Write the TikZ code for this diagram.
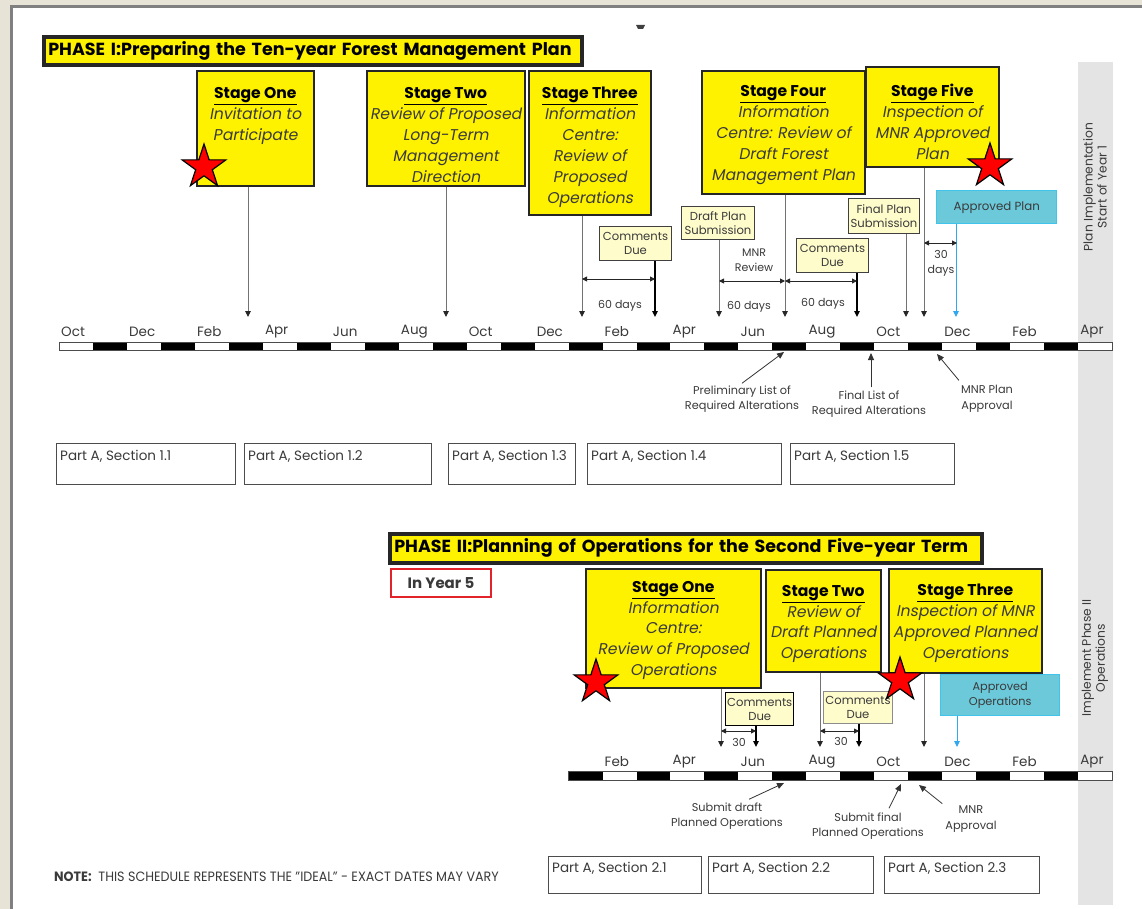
\documentclass[tikz,border=0pt]{standalone}
\usepackage{fontspec}
\setmainfont{Poppins}[AutoFakeSlant=0.18]
\usetikzlibrary{shapes.geometric,arrows.meta}

\definecolor{pageBeige}{HTML}{E7E3D7}
\definecolor{frameGray}{HTML}{808080}
\definecolor{stageYellow}{HTML}{FFF200}
\definecolor{noteCream}{HTML}{FFFCCC}
\definecolor{planCyan}{HTML}{6CC9DA}
\definecolor{cyanEdge}{HTML}{40C4EC}
\definecolor{cyanArrow}{HTML}{30A8F0}
\definecolor{stripGray}{HTML}{E4E4E4}
\definecolor{inkGray}{HTML}{3A3A3A}
\definecolor{yearRed}{HTML}{E2232A}

\newcommand\stagehead[1]{{\upshape\bfseries\color{black}\underline{#1}}}

\begin{document}
\begin{tikzpicture}[x=1pt,y=-1pt,
  stagebox/.style={draw=black!85, line width=1.6pt, fill=stageYellow, inner sep=0pt, anchor=north west},
  stagetext/.style={anchor=north, align=center, inner sep=0pt, text=inkGray,
    font=\fontsize{15.6}{21}\selectfont\itshape},
  phasebox/.style={draw=black!85, line width=2.6pt, fill=stageYellow, anchor=north west,
    inner ysep=0pt, inner xsep=5pt, align=left, font=\fontsize{17.5}{19}\selectfont\bfseries},
  notebox/.style={draw=black!75, line width=1pt, fill=noteCream, anchor=north west, inner sep=0pt,
    align=center, text=inkGray, font=\fontsize{11.6}{14}\selectfont},
  planbox/.style={draw=cyanEdge, line width=1.4pt, fill=planCyan, anchor=north west, inner sep=0pt,
    align=center, text=inkGray, font=\fontsize{11.8}{15}\selectfont},
  partbox/.style={draw=black!70, line width=0.9pt, fill=white, anchor=north west, inner sep=0pt},
  parttext/.style={anchor=north west, inner sep=0pt, text=inkGray, font=\fontsize{13.5}{15}\selectfont},
  month/.style={anchor=west, inner sep=0pt, text=inkGray, font=\fontsize{13.5}{15}\selectfont},
  small/.style={align=center, inner sep=0pt, text=inkGray, font=\fontsize{11.3}{15.5}\selectfont},
  days/.style={inner sep=0pt, text=inkGray, font=\fontsize{11}{13}\selectfont},
  sidetext/.style={rotate=90, align=center, inner sep=0pt, text=inkGray, font=\fontsize{12.3}{14}\selectfont},
  redstar/.style={star, star points=5, star point ratio=2.618, minimum size=46pt, inner sep=0pt,
    fill=red, draw=black, line width=1.2pt},
  drop/.style={draw=black!55, line width=0.9pt, -{Triangle[length=6pt,width=5.5pt,color=black!85]}},
  dropdark/.style={draw=black, line width=1.4pt, -{Triangle[length=6pt,width=5.5pt]}},
  dropcyan/.style={draw=cyanArrow, line width=1pt, -{Triangle[length=6pt,width=5.5pt]}},
  span/.style={draw=black!85, line width=0.9pt, {Triangle[length=5pt,width=5pt]}-{Triangle[length=5pt,width=5pt]}},
  pointer/.style={draw=black!80, line width=0.8pt, -{Triangle[length=7pt,width=6pt]}}
]
\useasboundingbox (0,0) rectangle (1142,909);

% page and frame
\fill[pageBeige] (0,0) rectangle (1142,909);
\fill[frameGray] (10,5) rectangle (1142,909);
\fill[white] (13,8) rectangle (1142,909);
\fill[black!75] (636,25) -- (645,25) -- (643,29) -- (638,29) -- cycle;

% grey strip on the right
\fill[stripGray] (1078,62) rectangle (1113,905);
\node[sidetext] (startYear) at (1095,187) {Plan Implementation\\Start of Year 1};
\node[sidetext] (implII) at (1095,658) {Implement Phase II\\Operations};

% ---------------- PHASE I ----------------
\node[phasebox, minimum width=539pt, minimum height=29pt, text width=529pt] (ph1) at (42,35)
  {PHASE I:Preparing the Ten-year Forest Management Plan};
\draw[black!85, line width=0.6pt] ([xshift=3pt,yshift=-3pt]ph1.north west) rectangle ([xshift=-3pt,yshift=3pt]ph1.south east);

\node[stagebox, minimum width=117pt, minimum height=115pt] (p1a) at (196,70) {};
\node[stagetext] (p1aT) at ([yshift=-17pt]p1a.north) {\stagehead{Stage One}\\Invitation to\\Participate};
\node[stagebox, minimum width=158pt, minimum height=115pt] (p1b) at (366,70) {};
\node[stagetext] (p1bT) at ([yshift=-17pt]p1b.north) {\stagehead{Stage Two}\\Review of Proposed\\Long-Term\\Management\\Direction};
\node[stagebox, minimum width=122pt, minimum height=144pt] (p1c) at (528,70) {};
\node[stagetext] (p1cT) at ([yshift=-17pt]p1c.north) {\stagehead{Stage Three}\\Information\\Centre:\\Review of\\Proposed\\Operations};
\node[stagebox, minimum width=163pt, minimum height=123pt] (p1d) at (701,70) {};
\node[stagetext] (p1dT) at ([yshift=-15pt]p1d.north) {\stagehead{Stage Four}\\Information\\Centre: Review of\\Draft Forest\\Management Plan};
\node[stagebox, minimum width=133pt, minimum height=100pt] (p1e) at (865,66) {};
\node[stagetext] (p1eT) at ([yshift=-18pt]p1e.north) {\stagehead{Stage Five}\\Inspection of\\MNR Approved\\Plan};

\node[planbox, minimum width=120pt, minimum height=33pt] (ap1) at (936,190) {Approved Plan};

\node[notebox, minimum width=72pt, minimum height=34pt] (cd1) at (599,226) {Comments\\Due};
\node[notebox, minimum width=73pt, minimum height=33pt] (dps) at (681,206) {Draft Plan\\Submission};
\node[notebox, minimum width=72pt, minimum height=34pt] (cd2) at (796,238) {Comments\\Due};
\node[notebox, minimum width=71pt, minimum height=35pt] (fps) at (848,198) {Final Plan\\Submission};

% arrow tips above the first time line
\coordinate (tA) at (248,317);
\coordinate (tB) at (446,317);
\coordinate (tC) at (582,317);
\coordinate (tD) at (655,317);
\coordinate (tE) at (719,317);
\coordinate (tF) at (785,317);
\coordinate (tG) at (857,317);
\coordinate (tH) at (906,317);
\coordinate (tI) at (924,317);
\coordinate (tJ) at (956,317);

\draw[drop] (p1a.south -| tA) -- (tA);
\draw[drop] (p1b.south -| tB) -- (tB);
\draw[drop] (p1c.south -| tC) -- (tC);
\draw[dropdark] (cd1.south -| tD) -- (tD);
\draw[drop] (dps.south -| tE) -- (tE);
\draw[drop] (p1d.south -| tF) -- (tF);
\draw[dropdark] (cd2.south -| tG) -- (tG);
\draw[drop] (fps.south -| tH) -- (tH);
\draw[drop] (p1e.south -| tI) -- (tI);
\draw[dropcyan] (ap1.south -| tJ) -- (tJ);

% day spans
\coordinate (s1a) at (582,279); \coordinate (s1b) at (655,279);
\coordinate (s2a) at (719,281); \coordinate (s2b) at (785,281);
\coordinate (s3a) at (785,281); \coordinate (s3b) at (857,281);
\coordinate (s4a) at (924,243); \coordinate (s4b) at (957,243);
\draw[span] (s1a) -- (s1b);
\draw[span] (s2a) -- (s2b);
\draw[span] (s3a) -- (s3b);
\draw[span] (s4a) -- (s4b);
\node[days] (d60a) at (620,306) {60 days};
\node[days] (d60b) at (749,307) {60 days};
\node[days] (d60c) at (823,304) {60 days};
\node[small, font=\fontsize{11}{14.5}\selectfont] (mnrRev) at (754,260) {MNR\\Review};
\node[small, font=\fontsize{11}{15}\selectfont] (d30) at (941,263) {30\\days};

% first time line: one block per month
\foreach \i in {0,2,...,30} \fill[white] ({59+33.97*\i},342) rectangle ({59+33.97*(\i+1)},350);
\foreach \i in {1,3,...,29} \fill[black] ({59+33.97*\i},342) rectangle ({59+33.97*(\i+1)},350);
\draw[black!70, line width=0.8pt] (59,342) rectangle (1112,350);
\foreach \i/\m in {0/Oct,2/Dec,4/Feb,6/Apr,8/Jun,10/Aug,12/Oct,14/Dec,16/Feb,18/Apr,20/Jun,22/Aug,24/Oct,26/Dec,28/Feb,30/Apr}
  \node[month] (mA\i) at ({59+33.97*\i+2},332) {\m};

% notes under the first time line
\node[small] (prelim) at (742,399) {Preliminary List of\\Required Alterations};
\coordinate (prelimTip) at (784,352);
\draw[pointer] ([yshift=2pt]prelim.north) -- (prelimTip);
\node[small] (finalList) at (869,404) {Final List of\\Required Alterations};
\coordinate (finalTip) at (871,353);
\draw[pointer] ([xshift=2pt,yshift=3pt]finalList.north) -- (finalTip);
\node[small] (mnrPlan) at (987,399) {MNR Plan\\Approval};
\coordinate (mnrPlanTip) at (937,354);
\draw[pointer] ([xshift=-2pt,yshift=5pt]mnrPlan.north west) -- (mnrPlanTip);

% Part A sections, first group
\node[partbox, minimum width=179pt, minimum height=41pt] (pa11) at (56,443) {};
\node[parttext] at ([xshift=4pt,yshift=-7pt]pa11.north west) {Part A, Section 1.1};
\node[partbox, minimum width=187pt, minimum height=41pt] (pa12) at (244,443) {};
\node[parttext] at ([xshift=4pt,yshift=-7pt]pa12.north west) {Part A, Section 1.2};
\node[partbox, minimum width=127pt, minimum height=41pt] (pa13) at (448,443) {};
\node[parttext] at ([xshift=4pt,yshift=-7pt]pa13.north west) {Part A, Section 1.3};
\node[partbox, minimum width=194pt, minimum height=41pt] (pa14) at (587,443) {};
\node[parttext] at ([xshift=4pt,yshift=-7pt]pa14.north west) {Part A, Section 1.4};
\node[partbox, minimum width=164pt, minimum height=41pt] (pa15) at (790,443) {};
\node[parttext] at ([xshift=4pt,yshift=-7pt]pa15.north west) {Part A, Section 1.5};

% ---------------- PHASE II ----------------
\node[phasebox, minimum width=593pt, minimum height=30pt, text width=583pt] (ph2) at (388,532)
  {PHASE II:Planning of Operations for the Second Five-year Term};
\draw[black!85, line width=0.6pt] ([xshift=3pt,yshift=-3pt]ph2.north west) rectangle ([xshift=-3pt,yshift=3pt]ph2.south east);

\node[draw=yearRed, line width=2pt, fill=white, anchor=north west, minimum width=100pt, minimum height=28pt,
  inner sep=0pt, text=inkGray, font=\fontsize{15}{17}\selectfont\bfseries] (year5) at (390,568) {In Year 5};

\node[stagebox, minimum width=175pt, minimum height=119pt] (p2a) at (585,568) {};
\node[stagetext, font=\fontsize{15.6}{20.8}\selectfont\itshape] (p2aT) at ([yshift=-13pt]p2a.north) {\stagehead{Stage One}\\Information\\Centre:\\Review of Proposed\\Operations};
\node[stagebox, minimum width=115pt, minimum height=102pt] (p2b) at (765,569) {};
\node[stagetext, font=\fontsize{15.6}{20.8}\selectfont\itshape] (p2bT) at ([yshift=-16pt]p2b.north) {\stagehead{Stage Two}\\Review of\\Draft Planned\\Operations};
\node[stagebox, minimum width=153pt, minimum height=104pt] (p2c) at (888,568) {};
\node[stagetext, font=\fontsize{15.6}{20.8}\selectfont\itshape] (p2cT) at ([yshift=-16pt]p2c.north) {\stagehead{Stage Three}\\Inspection of MNR\\Approved Planned\\Operations};

\node[planbox, minimum width=119pt, minimum height=41pt, font=\fontsize{11.3}{15}\selectfont] (ap2) at (940,674) {Approved\\Operations};

\node[notebox, draw=black, line width=1.4pt, minimum width=68pt, minimum height=33pt] (cd3) at (725,692) {Comments\\Due};
\node[notebox, draw=black!45, minimum width=69pt, minimum height=32pt] (cd4) at (823,691) {Comments\\Due};

\coordinate (uA) at (721,747);
\coordinate (uB) at (756,747);
\coordinate (uC) at (820,747);
\coordinate (uD) at (859,747);
\coordinate (uE) at (924,747);
\coordinate (uF) at (957,747);

\draw[drop] (p2a.south -| uA) -- (uA);
\draw[dropdark] (cd3.south -| uB) -- (uB);
\draw[drop] (p2b.south -| uC) -- (uC);
\draw[dropdark] (cd4.south -| uD) -- (uD);
\draw[drop] (p2c.south -| uE) -- (uE);
\draw[dropcyan] (ap2.south -| uF) -- (uF);

\coordinate (s5a) at (721,731); \coordinate (s5b) at (756,731);
\coordinate (s6a) at (820,731); \coordinate (s6b) at (859,731);
\draw[span] (s5a) -- (s5b);
\draw[span] (s6a) -- (s6b);
\node[days] (d30a) at (739,742) {30};
\node[days] (d30b) at (841,741) {30};

% second time line, January to April
\foreach \i in {16,18,...,30} \fill[white] ({59+33.97*\i},771) rectangle ({59+33.97*(\i+1)},780);
\foreach \i in {15,17,...,29} \fill[black] ({59+33.97*\i},771) rectangle ({59+33.97*(\i+1)},780);
\draw[black!70, line width=0.8pt] ({59+33.97*15},771) rectangle (1112,780);
\foreach \i/\m in {16/Feb,18/Apr,20/Jun,22/Aug,24/Oct,26/Dec,28/Feb,30/Apr}
  \node[month] (mB\i) at ({59+33.97*\i+2},762) {\m};

\node[small] (subDraft) at (727,816) {Submit draft\\Planned Operations};
\coordinate (subDraftTip) at (784,783);
\draw[pointer] ([xshift=22pt,yshift=3pt]subDraft.north) -- (subDraftTip);
\node[small] (subFinal) at (868,826) {Submit final\\Planned Operations};
\coordinate (subFinalTip) at (901,784);
\draw[pointer] ([xshift=21pt,yshift=4pt]subFinal.north) -- (subFinalTip);
\node[small] (mnrAppr) at (971,819) {MNR\\Approval};
\coordinate (mnrApprTip) at (919,785);
\draw[pointer] ([xshift=-3pt,yshift=2pt]mnrAppr.north west) -- (mnrApprTip);

% Part A sections, second group
\node[partbox, minimum width=153pt, minimum height=37pt] (pa21) at (548,856) {};
\node[parttext] at ([xshift=4pt,yshift=-6pt]pa21.north west) {Part A, Section 2.1};
\node[partbox, minimum width=165pt, minimum height=37pt] (pa22) at (708,856) {};
\node[parttext] at ([xshift=4pt,yshift=-6pt]pa22.north west) {Part A, Section 2.2};
\node[partbox, minimum width=155pt, minimum height=37pt] (pa23) at (884,856) {};
\node[parttext] at ([xshift=4pt,yshift=-6pt]pa23.north west) {Part A, Section 2.3};

\node[anchor=west, inner sep=0pt, xscale=0.94, text=inkGray, font=\fontsize{13.5}{15}\selectfont] (note) at (54,877)
  {\textbf{NOTE:}\ \ THIS SCHEDULE REPRESENTS THE "IDEAL" - EXACT DATES MAY VARY};

% stars
\node[redstar] (star1) at (204,167) {};
\node[redstar] (star2) at (990,166) {};
\node[redstar] (star3) at (596,682) {};
\node[redstar] (star4) at (900,680) {};
\end{tikzpicture}
\end{document}
